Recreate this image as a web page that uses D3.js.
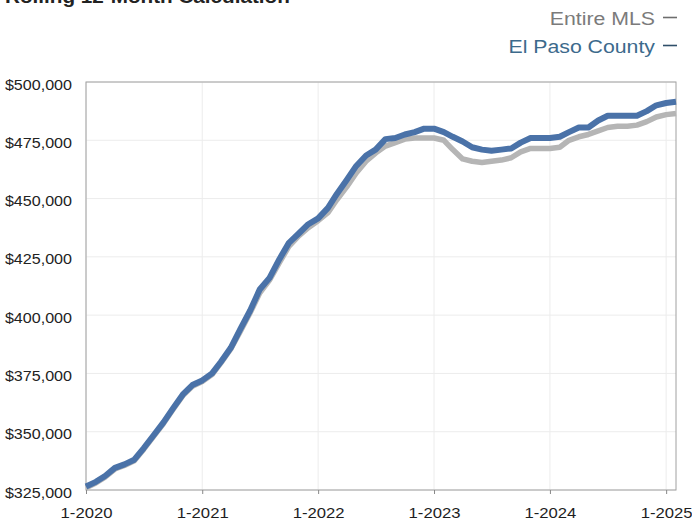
<!DOCTYPE html>
<html>
<head>
<meta charset="utf-8">
<script src="https://cdn.jsdelivr.net/npm/d3@7"></script>
<style>
  html, body { margin: 0; padding: 0; background: #fff; }
  svg { display: block; font-family: "Liberation Sans", Arial, Helvetica, sans-serif; }
</style>
</head>
<body>
<svg id="chart" width="692" height="521"></svg>
<script>
// Monthly rolling 12-month median sales price, Jan 2020 – Feb 2025
const monthStart = "2020-01";
const monthEnd = "2025-02";

const elPasoCounty = [
  326500, 328500, 331000, 334500, 336000, 338000, 343000, 348500, 354000, 360000, 366000, 370000,
  372000, 375000, 380000, 386000, 394000, 402000, 411000, 416000, 424000, 431000, 435000, 439000,
  441500, 446000, 452000, 458000, 464000, 468500, 471000, 475500, 476000, 477500, 478500, 480000,
  480000, 478500, 476500, 474500, 472000, 471000, 470500, 471000, 471500, 474000, 476000, 476000,
  476000, 476500, 478500, 480500, 480500, 483500, 485500, 485500, 485500, 485500, 487500, 490000,
  491000, 491500
];

const entireMLS = [
  326000, 328000, 330500, 334000, 335500, 337500, 342500, 348000, 353500, 359500, 365500, 369500,
  371500, 374500, 379500, 385500, 393000, 401000, 409500, 415000, 422500, 429500, 434000, 437500,
  440500, 444000, 449500, 455000, 461000, 466000, 469500, 472500, 474000, 475500, 476000, 476000,
  476000, 475000, 471000, 467000, 466000, 465500, 466000, 466500, 467500, 470000, 471500, 471500,
  471500, 472000, 475000, 476500, 477500, 479000, 480500, 481000, 481000, 481500, 483000, 485000,
  486000, 486500
];

const yTickValues = [325000, 350000, 375000, 400000, 425000, 450000, 475000, 500000];
const xTickLabels = ["1-2020", "1-2021", "1-2022", "1-2023", "1-2024", "1-2025"];

const legendItems = [
  { label: "Entire MLS", color: "#7b7b7b", dash: "#6e6e6e" },
  { label: "El Paso County", color: "#3c6a8c", dash: "#2f4f6a" }
];

const titleText = "Rolling 12-Month Calculation";

// ---- layout ----
const svg = d3.select("#chart");
const plot = { left: 86, right: 676, top: 82, bottom: 490 };
const stretch = 1.15; // horizontal stretch applied to all text

const parseMonth = d3.timeParse("%Y-%m");
const months = d3.timeMonth.range(parseMonth(monthStart), d3.timeMonth.offset(parseMonth(monthEnd), 1));

const x = d3.scaleTime()
  .domain([months[0], months[months.length - 1]])
  .range([plot.left, plot.right]);

const y = d3.scaleLinear()
  .domain([325000, 500000])
  .range([plot.bottom, plot.top]);

const xTickDates = xTickLabels.map(s => d3.timeParse("%m-%Y")(s));

// gridlines
svg.append("g")
  .selectAll("line")
  .data(yTickValues)
  .join("line")
  .attr("x1", plot.left).attr("x2", plot.right)
  .attr("y1", d => y(d)).attr("y2", d => y(d))
  .attr("stroke", "#ececec").attr("stroke-width", 1);

svg.append("g")
  .selectAll("line")
  .data(xTickDates)
  .join("line")
  .attr("x1", d => x(d)).attr("x2", d => x(d))
  .attr("y1", plot.top).attr("y2", plot.bottom)
  .attr("stroke", "#ececec").attr("stroke-width", 1);

// frame
svg.append("rect")
  .attr("x", plot.left).attr("y", plot.top)
  .attr("width", plot.right - plot.left)
  .attr("height", plot.bottom - plot.top)
  .attr("fill", "none")
  .attr("stroke", "#a0a0a0")
  .attr("stroke-width", 1);

// y axis
const yAxis = svg.append("g")
  .attr("transform", `translate(${plot.left},0)`)
  .call(d3.axisLeft(y).tickValues(yTickValues).tickFormat(d3.format("$,")).tickSize(0).tickPadding(0));
yAxis.select(".domain").remove();
yAxis.selectAll("text")
  .attr("x", -14 / stretch)
  .attr("dy", "0.5em")
  .attr("transform", `scale(${stretch},1)`)
  .attr("font-size", 14)
  .attr("font-family", "Liberation Sans, Arial, sans-serif")
  .attr("fill", "#222");

// x axis
const xAxis = svg.append("g")
  .attr("transform", `translate(0,${plot.bottom})`)
  .call(d3.axisBottom(x).tickValues(xTickDates).tickFormat(d3.timeFormat("%-m-%Y")).tickSize(4));
xAxis.select(".domain").remove();
xAxis.selectAll(".tick line").attr("stroke", "#888");
xAxis.selectAll("text")
  .attr("y", 28)
  .attr("dy", 0)
  .attr("transform", `scale(${stretch},1)`)
  .attr("font-size", 14.5)
  .attr("font-family", "Liberation Sans, Arial, sans-serif")
  .attr("fill", "#1e1e1e");

// lines
const line = d3.line()
  .x((d, i) => x(months[i]))
  .y(d => y(d));

svg.append("path")
  .datum(entireMLS)
  .attr("d", line)
  .attr("fill", "none")
  .attr("stroke", "#b5b5b5")
  .attr("stroke-width", 5.5)
  .attr("stroke-linejoin", "round");

svg.append("path")
  .datum(elPasoCounty)
  .attr("d", line)
  .attr("fill", "none")
  .attr("stroke", "#4a72a8")
  .attr("stroke-width", 6)
  .attr("stroke-linejoin", "round");

// title along the top edge
svg.append("text")
  .attr("transform", `translate(5,3) scale(${stretch},1)`)
  .attr("font-size", 18)
  .attr("font-weight", "bold")
  .attr("fill", "#222")
  .text(titleText);

// legend, right aligned
const legendBaselines = [24.5, 52.5];
legendItems.forEach((item, i) => {
  svg.append("text")
    .attr("transform", `translate(655,${legendBaselines[i]}) scale(${stretch},1)`)
    .attr("text-anchor", "end")
    .attr("font-size", 18.5)
    .attr("fill", item.color)
    .text(item.label);
  svg.append("line")
    .attr("x1", 663).attr("x2", 677)
    .attr("y1", legendBaselines[i] - 7).attr("y2", legendBaselines[i] - 7)
    .attr("stroke", item.dash)
    .attr("stroke-width", 1.6);
});
</script>
</body>
</html>
